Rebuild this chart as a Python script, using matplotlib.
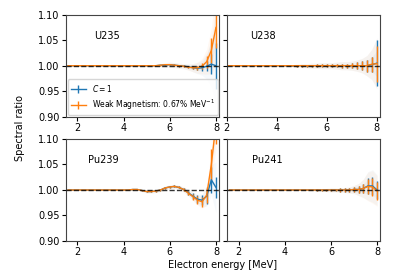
import matplotlib
matplotlib.use("Agg")
import matplotlib.pyplot as plt
import numpy as np

energy = [1.6, 1.8, 2.0, 2.2, 2.4, 2.6, 2.8, 3.0, 3.2, 3.4, 3.6, 3.8, 4.0, 4.2, 4.4, 4.6, 4.8,
          5.0, 5.2, 5.4, 5.6, 5.8, 6.0, 6.2, 6.4, 6.6, 6.8, 7.0, 7.2, 7.4, 7.6, 7.8, 8.0]

nuclides = ["U235", "U238", "Pu239", "Pu241"]

# C = 1 series
u235_c1 = [1.000]*20 + [1.001, 1.001, 1.002, 1.001, 1.000, 0.999, 0.998, 0.996, 0.995, 0.996, 0.999, 1.003, 1.000]
u238_c1 = [1.000]*30 + [1.000, 1.002, 1.005]
pu239_c1 = [1.000]*14 + [1.001, 1.001, 0.999, 0.997, 0.997, 0.998, 1.000, 1.004, 1.006, 1.007, 1.005,
                         1.001, 0.995, 0.988, 0.982, 0.980, 0.988, 1.020, 1.005]
pu241_c1 = [1.000]*27 + [1.001, 1.001, 1.003, 1.008, 1.008, 1.000]

# weak magnetism series
u235_wm = [1.000]*20 + [1.001, 1.002, 1.002, 1.001, 1.000, 0.999, 0.997, 0.996, 0.996, 0.999, 1.008, 1.030, 1.075]
u238_wm = [1.000]*30 + [1.000, 1.003, 1.004]
pu239_wm = [1.000]*14 + [1.001, 1.001, 0.999, 0.997, 0.997, 0.998, 1.000, 1.004, 1.006, 1.007, 1.005,
                         1.001, 0.994, 0.987, 0.980, 0.977, 0.990, 1.050, 1.130]
pu241_wm = [1.000]*27 + [1.001, 1.001, 1.003, 1.007, 1.006, 0.998]

# uncertainties
u235_err_c1 = [0.0]*20 + [0.001, 0.001, 0.0015, 0.0015, 0.002, 0.002, 0.002, 0.003, 0.004, 0.006, 0.010, 0.020, 0.045]
u235_err_wm = [0.0]*20 + [0.001, 0.001, 0.0015, 0.0015, 0.002, 0.002, 0.002, 0.003, 0.004, 0.006, 0.012, 0.025, 0.040]
u238_err_c1 = [0.0]*15 + [0.001, 0.002, 0.002, 0.002, 0.002, 0.003, 0.003, 0.003, 0.003, 0.003, 0.004, 0.004,
                          0.005, 0.007, 0.009, 0.012, 0.015, 0.045]
u238_err_wm = [0.0]*15 + [0.001, 0.002, 0.002, 0.002, 0.002, 0.003, 0.003, 0.003, 0.003, 0.003, 0.004, 0.004,
                          0.005, 0.007, 0.009, 0.012, 0.015, 0.035]
pu239_err_c1 = [0.0]*14 + [0.001]*7 + [0.002, 0.002, 0.002, 0.002, 0.002, 0.004, 0.006, 0.008, 0.010, 0.015, 0.025, 0.020]
pu239_err_wm = [0.0]*14 + [0.001]*7 + [0.002, 0.002, 0.002, 0.002, 0.002, 0.004, 0.006, 0.008, 0.010, 0.015, 0.030, 0.040]
pu241_err_c1 = [0.0]*19 + [0.001, 0.001, 0.002, 0.002, 0.002, 0.003, 0.003, 0.003, 0.004, 0.006, 0.008, 0.015, 0.018, 0.018]
pu241_err_wm = [0.0]*19 + [0.001, 0.001, 0.002, 0.002, 0.002, 0.003, 0.003, 0.003, 0.004, 0.006, 0.008, 0.015, 0.018, 0.018]

# spread of the individual toy spectra (faint band half-widths)
u235_band = [0.0]*17 + [0.001, 0.002, 0.002, 0.003, 0.004, 0.005, 0.005, 0.005, 0.005, 0.006, 0.008, 0.011, 0.015, 0.025, 0.045, 0.075]
u238_band = [0.0]*14 + [0.001, 0.002, 0.003, 0.004, 0.004, 0.005, 0.005, 0.006, 0.006, 0.006, 0.007, 0.008, 0.008,
                        0.009, 0.011, 0.014, 0.020, 0.030, 0.050]
pu239_band = [0.0]*12 + [0.001, 0.001, 0.002, 0.002, 0.002, 0.003, 0.003, 0.003, 0.003, 0.004, 0.004, 0.004, 0.004,
                         0.005, 0.006, 0.008, 0.010, 0.013, 0.020, 0.030, 0.050]
pu241_band = [0.0]*17 + [0.001, 0.002, 0.002, 0.003, 0.003, 0.004, 0.004, 0.004, 0.005, 0.006, 0.008, 0.012, 0.018, 0.028, 0.032, 0.030]

c1 = [u235_c1, u238_c1, pu239_c1, pu241_c1]
wm = [u235_wm, u238_wm, pu239_wm, pu241_wm]
err_c1 = [u235_err_c1, u238_err_c1, pu239_err_c1, pu241_err_c1]
err_wm = [u235_err_wm, u238_err_wm, pu239_err_wm, pu241_err_wm]
bands = [u235_band, u238_band, pu239_band, pu241_band]

xlims = [(1.5, 8.12), (2.0, 8.11), (1.5, 8.12), (1.48, 8.11)]
label_pos = [(2.73, 1.058), (2.92, 1.058), (2.47, 1.058), (2.6, 1.058)]

plt.rcParams['font.family'] = ['DejaVu Sans']
plt.rcParams['font.size'] = 7

fig = plt.figure(figsize=(3.99, 2.79), dpi=100)
W, H = 0.3835, 0.3656
positions = [(0.1647, 0.5817), (0.568, 0.5817), (0.1647, 0.1362), (0.568, 0.1362)]

e = np.array(energy)
for i, name in enumerate(nuclides):
    ax = fig.add_axes([positions[i][0], positions[i][1], W, H])
    y1 = np.array(c1[i]); y2 = np.array(wm[i]); b = np.array(bands[i])
    mask = e >= xlims[i][0] - 0.15
    ax.fill_between(e[mask], (y1 - b)[mask], (y1 + b)[mask], color='#1f77b4', alpha=0.04, lw=0)
    ax.fill_between(e[mask], (y2 - b)[mask], (y2 + b)[mask], color='#ff7f0e', alpha=0.05, lw=0)
    ax.fill_between(e[mask], (y2 - 0.5*b)[mask], (y2 + 0.5*b)[mask], color='gray', alpha=0.06, lw=0)
    ax.errorbar(e[mask], y1[mask], yerr=np.array(err_c1[i])[mask], color='#1f77b4', lw=1.0,
                elinewidth=1.0, label='$C=1$')
    ax.errorbar(e[mask], y2[mask], yerr=np.array(err_wm[i])[mask], color='#ff7f0e', lw=1.0,
                elinewidth=1.0, label='Weak Magnetism: 0.67% MeV$^{-1}$')
    ax.axhline(1.0, color='k', ls='--', lw=1.0, alpha=0.8, zorder=5)
    ax.set_xlim(*xlims[i])
    ax.set_ylim(0.90, 1.10)
    ax.set_xticks([2, 4, 6, 8])
    ax.set_yticks([0.90, 0.95, 1.00, 1.05, 1.10])
    if i % 2 == 1:
        ax.set_yticklabels([])
    else:
        ax.set_yticklabels(['0.90', '0.95', '1.00', '1.05', '1.10'])
    ax.tick_params(labelsize=7, length=3, pad=1.5)
    for s in ax.spines.values():
        s.set_color('#444444')
    ax.text(label_pos[i][0], label_pos[i][1], name, fontsize=7, va='center', ha='left')
    if i == 0:
        ax.legend(loc='lower left', fontsize=5.5, borderaxespad=0.25, handlelength=2.0)

fig.text(0.05, 0.54, 'Spectral ratio', rotation=90, va='center', ha='center', fontsize=7)
fig.text(0.559, 0.05, 'Electron energy [MeV]', va='center', ha='center', fontsize=7)

fig.savefig('out.png', dpi=100)
